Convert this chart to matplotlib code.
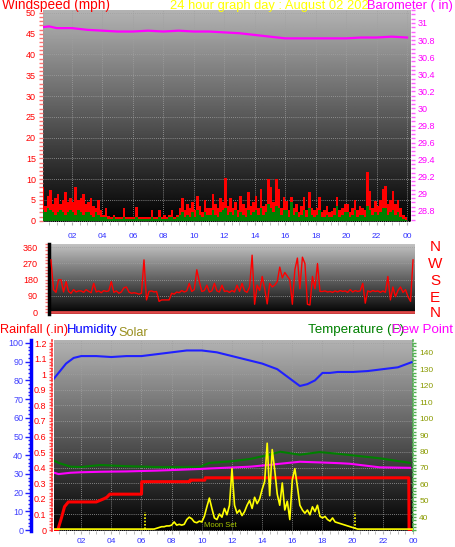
import numpy as np
import matplotlib.pyplot as plt
from matplotlib.ticker import MultipleLocator

plt.rcParams['font.family'] = ['Liberation Sans', 'DejaVu Sans']

# x axis, labels every 2 hours
hour_ticks = [2, 4, 6, 8, 10, 12, 14, 16, 18, 20, 22, 24]
hour_labels = ['02', '04', '06', '08', '10', '12', '14', '16', '18', '20', '22', '00']

# wind speed (mph), 10 minute samples
wind_gust = [
    8.0, 3.5, 6.0, 7.5, 4.0, 5.5,   6.5, 4.0, 5.0, 7.0, 4.5, 5.5,
    4.5, 8.0, 5.0, 5.5, 6.5, 4.0,   4.5, 5.5, 3.5, 3.0, 5.0, 2.5,
    1.5, 3.0, 1.2, 1.0, 1.5, 0.8,   1.0, 0.8, 3.0, 1.0, 0.8, 1.0,
    1.0, 3.3, 1.0, 0.8, 1.0, 1.0,   1.0, 2.5, 0.8, 1.0, 2.5, 1.0,
    1.5, 1.0, 1.5, 2.5, 1.0, 1.5,   3.0, 5.5, 2.5, 4.0, 3.0, 4.5,
    2.5, 6.0, 3.5, 2.0, 5.0, 3.0,   3.0, 6.5, 4.0, 3.0, 5.5, 4.5,
    10.4, 3.5, 5.5, 3.0, 4.5, 2.5,  6.0, 4.0, 3.0, 7.0, 3.5, 4.5,
    6.0, 3.0, 7.6, 3.5, 4.0, 10.0,  8.0, 4.5, 10.0, 7.6, 3.0, 5.6,
    4.8, 2.5, 5.6, 3.0, 4.0, 2.0,   3.5, 5.6, 2.5, 6.8, 3.0, 2.5,
    3.0, 5.6, 2.0, 2.5, 3.5, 2.0,   2.4, 3.0, 5.6, 2.5, 3.0, 4.0,
    4.0, 2.0, 3.0, 5.0, 2.5, 3.5,   3.0, 2.5, 11.8, 7.2, 3.0, 4.8,
    3.5, 5.0, 7.6, 8.4, 4.0, 5.0,   7.2, 4.0, 5.0, 3.0, 1.5, 0.8,
]
wind_avg = [
    2.5, 2.0, 3.0, 2.5, 2.0, 1.5,   2.0, 2.5, 2.0, 1.5, 2.0, 2.5,
    2.0, 1.5, 2.5, 2.0, 1.5, 2.0,   2.0, 1.5, 1.0, 2.0, 1.5, 1.0,
    0.8, 1.0, 0.5, 0.5, 0.8, 0.5,   0.5, 0.5, 1.0, 0.5, 0.5, 0.5,
    0.5, 1.0, 0.5, 0.5, 0.5, 0.5,   0.5, 0.8, 0.5, 0.5, 0.8, 0.5,
    0.5, 0.5, 0.8, 1.0, 0.5, 0.8,   1.5, 2.0, 1.0, 1.5, 1.0, 2.0,
    1.0, 2.5, 1.5, 1.0, 2.0, 1.5,   1.5, 2.5, 1.5, 1.0, 2.0, 2.5,
    3.0, 1.5, 2.0, 1.5, 2.5, 1.0,   2.0, 1.5, 1.0, 2.5, 1.5, 2.0,
    2.5, 1.5, 3.0, 1.5, 2.0, 4.0,   3.0, 2.0, 3.5, 3.0, 1.5, 2.5,
    2.5, 1.0, 4.5, 1.5, 2.0, 1.0,   1.5, 2.5, 1.0, 3.0, 1.5, 1.0,
    1.5, 2.5, 1.0, 1.0, 1.5, 1.0,   1.0, 1.5, 3.5, 1.0, 1.5, 2.0,
    2.0, 1.0, 1.5, 2.5, 1.0, 1.5,   1.5, 1.0, 3.5, 2.5, 1.5, 2.0,
    1.5, 2.0, 3.0, 3.0, 1.5, 2.0,   2.5, 1.5, 2.0, 1.0, 0.5, 0.3,
]

# barometer (in)
baro_hours = [0, 0.5, 1, 2, 3, 4, 5, 6, 7, 8, 9, 10, 11, 12, 13, 14, 15, 16,
              17, 18, 19, 20, 21, 22, 23, 24]
baro_in = [30.95, 30.96, 30.94, 30.94, 30.92, 30.91, 30.90, 30.90, 30.91,
           30.90, 30.91, 30.90, 30.90, 30.89, 30.88, 30.86, 30.84, 30.82,
           30.82, 30.82, 30.82, 30.82, 30.83, 30.83, 30.84, 30.83]

# wind direction (deg), 10 minute samples
wind_dir = [
    290, 125, 110, 180, 180, 112,   170, 115, 105, 125, 112, 118,
    118, 110, 125, 115, 108, 160,   112, 118, 108, 120, 115, 118,
    170, 110, 118, 105, 112, 135,   140, 112, 105, 108, 105, 100,
    105, 290, 68, 115, 118, 112,    115, 60, 68, 68, 68, 68,
    105, 100, 112, 108, 120, 112,   118, 160, 115, 125, 235, 170,
    115, 120, 150, 112, 118, 160,   118, 112, 150, 115, 118, 110,
    120, 112, 150, 115, 160, 118,   110, 140, 316, 44, 150, 120,
    198, 130, 46, 160, 140, 150,    170, 250, 190, 220, 200, 180,
    44, 235, 300, 130, 305, 270,    44, 40, 198, 130, 270, 115,
    115, 118, 112, 115, 110, 118,   112, 120, 115, 118, 110, 125,
    112, 120, 115, 118, 160, 50,    118, 112, 120, 115, 118, 110,
    118, 110, 198, 68, 140, 86,     120, 140, 110, 125, 86, 60,
    290,
]

# rainfall (in)
rain_hours = [0, 0.45, 0.7, 0.9, 1.15, 3.0, 3.25, 3.5, 3.7, 3.9, 6.0, 6.02,
              9.2, 9.22, 10.2, 10.22, 23.72, 23.74, 24]
rain_in = [0, 0, 0.08, 0.15, 0.18, 0.18, 0.19, 0.2, 0.21, 0.23, 0.23, 0.31,
           0.31, 0.32, 0.32, 0.335, 0.335, 0, 0]

# humidity (%)
hum_hours = [0, 0.5, 1, 1.5, 2, 3, 4, 5, 6, 7, 8, 9, 10, 11, 12, 13, 14, 15,
             15.5, 16, 16.5, 17, 17.5, 18, 18.5, 19, 20, 21, 22, 23, 24]
humidity = [79, 84, 89, 92, 93, 93, 92.5, 93, 93, 94, 95, 96, 96, 95, 93, 91,
            89, 86, 83, 80, 77, 78, 80, 84, 84, 84.5, 84.5, 85, 86, 87, 90]

# temperature / dew point (F)
th_hours = [0, 0.5, 1.3, 2, 3.3, 5, 7, 8.5, 9.9, 10.5, 12, 13.2, 14.5, 15.2,
            16.5, 17.8, 19.2, 19.8, 21.8, 23.8]
temp_f = [75.4, 73, 70.7, 70.5, 71.7, 71, 70.5, 70.5, 70.7, 73, 74, 75.4, 78,
          79.8, 78, 79.6, 78.4, 77.8, 75.8, 73]
dew_f = [67.6, 66.2, 67, 67.3, 67.6, 67.8, 68.3, 68.8, 69.3, 69.6, 70.2, 70.7,
         71.8, 72.5, 73.7, 73.3, 72.8, 72.5, 70.3, 70]

# solar (W/m2), 10 minute samples
solar = [0] * 42 + [
    5, 10, 15, 15, 20, 20,          25, 45, 25, 30, 25, 30,
    60, 75, 65, 45, 40, 50,         45, 80, 140, 195, 130, 70,
    60, 95, 75, 130, 90, 150,       380, 150, 100, 120, 85, 110,
    150, 180, 130, 200, 160, 190,   250, 300, 540, 210, 500, 370,
    220, 150, 290, 120, 175, 60,    310, 380, 270, 150, 120, 100,
    120, 90, 140, 110, 150, 80,     70, 80, 60, 50, 70, 45,
    40, 35, 30, 25, 20, 15,         10, 5, 0, 0, 0, 0,
] + [0] * 19
sun_marks = [6.23, 20.16]

W, H = 456, 547
fig = plt.figure(figsize=(W / 100, H / 100), dpi=100)
fig.patch.set_facecolor('white')


def box(l, t, r, b):
    return [l / W, 1 - b / H, (r - l) / W, (b - t) / H]


def shade(ax, top=0.72):
    grad = np.linspace(0.0, top, 256)[:, None]
    ax.imshow(grad, extent=(0, 1, 0, 1), transform=ax.transAxes, origin='lower',
              cmap='gray', vmin=0, vmax=1, aspect='auto', zorder=0)


def hide_spines(ax):
    for s in ax.spines.values():
        s.set_visible(False)


grid_kw = dict(color='#a0a0a0', linestyle=(0, (1, 1.5)), linewidth=0.6)

# ---------------- wind speed / barometer ----------------
ax1 = fig.add_axes(box(43, 10, 411, 222))
shade(ax1, 0.70)
edges = np.arange(len(wind_gust) + 1) / 6
ax1.stairs(wind_gust, edges, fill=True, color='#ff0000', zorder=2)
ax1.stairs(wind_avg, edges, fill=True, color='#008000', zorder=3)
ax1.set_xlim(0.1, 24.26)
ax1.set_ylim(-0.3, 50.7)
ax1.set_yticks(range(0, 51, 5))
ax1.yaxis.set_minor_locator(MultipleLocator(1))
ax1.tick_params(axis='y', which='both', colors='#ff7070', labelcolor='#ff0000',
                labelsize=6.5, length=3, width=1, pad=2)
ax1.set_xticks(hour_ticks, hour_labels)
ax1.xaxis.set_minor_locator(MultipleLocator(0.5))
ax1.tick_params(axis='x', which='both', colors='#b0b0b0', labelcolor='#3030ff',
                labelsize=6, length=2, pad=6)
ax1.grid(True, **grid_kw)
ax1.set_axisbelow(True)
hide_spines(ax1)

ax1b = ax1.twinx()
ax1b.plot(baro_hours, baro_in, color='#ff00ff', lw=1.6)
ax1b.set_ylim(28.671, 31.152)
bt = [28.8, 29.0, 29.2, 29.4, 29.6, 29.8, 30.0, 30.2, 30.4, 30.6, 30.8, 31.0]
ax1b.set_yticks(bt, ['%g' % v for v in bt])
ax1b.yaxis.set_minor_locator(MultipleLocator(0.05))
ax1b.tick_params(axis='y', which='both', colors='#ff60ff', labelcolor='#ff00ff',
                 labelsize=6.5, length=3, width=1, pad=2)
hide_spines(ax1b)

# ---------------- wind direction ----------------
ax2 = fig.add_axes(box(49, 244, 415, 314))
shade(ax2, 0.76)
ax2.plot(np.arange(len(wind_dir)) / 6, wind_dir, color='#ff0000', lw=1.0, zorder=3)
ax2.axhline(0, color='#e04848', lw=2, zorder=2)
ax2.set_xlim(-0.13, 24.13)
ax2.set_ylim(-10, 378)
ax2.set_xticks([])
ax2.set_yticks([0, 90, 180, 270, 360])
ax2.yaxis.set_minor_locator(MultipleLocator(18))
ax2.tick_params(axis='y', which='both', colors='#ff7070', labelcolor='#ff0000',
                labelsize=6.5, length=3, width=1, pad=5)
ax2.grid(True, axis='y', **grid_kw)
ax2.set_axisbelow(True)
hide_spines(ax2)
ax2.spines['left'].set_visible(True)
ax2.spines['left'].set_color('black')
ax2.spines['left'].set_linewidth(2.5)

for letter, yp in zip(['N', 'W', 'S', 'E', 'N'], [247, 264, 281, 298, 313]):
    fig.text(435 / W, 1 - yp / H, letter, color='#ff0000', fontsize=11,
             ha='center', va='center')

# ---------------- rain / humidity / temperature / solar ----------------
ax3 = fig.add_axes(box(54, 340, 413, 531))
shade(ax3, 0.70)
ax3.plot(rain_hours, rain_in, color='#ff0000', lw=2.2, zorder=4)
ax3.set_xlim(0.2, 24.0)
ax3.set_ylim(-0.0064, 1.2193)
rt = [0, 0.1, 0.2, 0.3, 0.4, 0.5, 0.6, 0.7, 0.8, 0.9, 1.0, 1.1, 1.2]
ax3.set_yticks(rt, ['%g' % v for v in rt])
ax3.yaxis.set_minor_locator(MultipleLocator(0.02))
ax3.tick_params(axis='y', which='both', colors='#ff5050', labelcolor='#ff0000',
                labelsize=6.5, length=2.5, width=1, pad=1.5)
ax3.set_xticks(hour_ticks, hour_labels)
ax3.xaxis.set_minor_locator(MultipleLocator(0.5))
ax3.tick_params(axis='x', which='both', colors='#b0b0b0', labelcolor='#3030ff',
                labelsize=6, length=2, pad=3)
ax3.grid(True, **grid_kw)
ax3.set_axisbelow(True)
hide_spines(ax3)
ax3.spines['left'].set_visible(True)
ax3.spines['left'].set_position(('outward', 1.4))
ax3.spines['left'].set_color('#ff3030')
ax3.spines['left'].set_linestyle((0, (1.5, 1.5)))
ax3.spines['left'].set_linewidth(1.2)

axh = ax3.twinx()
axh.plot(hum_hours, humidity, color='#2020ff', lw=1.5)
axh.set_ylim(-0.53, 101.6)
axh.yaxis.tick_left()
axh.set_yticks(range(0, 101, 10))
axh.yaxis.set_minor_locator(MultipleLocator(2))
axh.tick_params(axis='y', which='major', length=4)
axh.tick_params(axis='y', which='minor', length=2)
axh.tick_params(axis='y', which='both', colors='#2020ff', labelcolor='#4040ff',
                labelsize=6.5, width=1, pad=1.5)
hide_spines(axh)
axh.spines['left'].set_visible(True)
axh.spines['left'].set_position(('outward', 16.6))
axh.spines['left'].set_color('#0000ff')
axh.spines['left'].set_linewidth(2.5)

axt = ax3.twinx()
axt.plot(th_hours, temp_f, color='#008000', lw=1.5)
axt.plot(th_hours, dew_f, color='#ff00ff', lw=1.5)
axt.set_ylim(31.5, 147.9)
axt.set_yticks(range(40, 141, 10))
axt.yaxis.set_minor_locator(MultipleLocator(2))
axt.tick_params(axis='y', which='both', colors='#50b050', labelcolor='#8a9a00',
                labelsize=6, length=2.5, width=1, pad=2)
hide_spines(axt)
axt.spines['right'].set_visible(True)
axt.spines['right'].set_color('#50b050')
axt.spines['right'].set_linestyle((0, (1.5, 1.5)))
axt.spines['right'].set_linewidth(1.2)

axs = ax3.twinx()
axs.plot(np.arange(len(solar)) / 6, solar, color='#ffff00', lw=1.2)
axs.vlines(sun_marks, 0, 105, colors='#ffff00', linestyles=(0, (1, 1)), lw=1.2)
axs.text(11.2, 20, 'Moon Set', color='#a8c800', fontsize=5.5, ha='center', va='center')
axs.set_ylim(-12, 1189)
axs.axis('off')

# ---------------- titles ----------------
fig.text(2 / W, 1 - 9 / H, 'Windspeed (mph)', color='#ff0000', fontsize=9.8, va='baseline')
fig.text(170 / W, 1 - 9 / H, '24 hour graph day : August 02 202', color='#ffff00',
         fontsize=9.3, va='baseline')
fig.text(367 / W, 1 - 9 / H, 'Barometer ( in)', color='#ff00ff', fontsize=9.3, va='baseline')

fig.text(0, 1 - 333 / H, 'Rainfall (.in)', color='#ff0000', fontsize=9.2, va='baseline')
fig.text(67 / W, 1 - 333 / H, 'Humidity', color='#0000ff', fontsize=9.4, va='baseline')
fig.text(118 / W, 1 - 336.5 / H, 'Solar', color='#9a9020', fontsize=9.2, va='baseline')
fig.text(308 / W, 1 - 333 / H, 'Temperature (F)', color='#008000', fontsize=9.6, va='baseline')
fig.text(392 / W, 1 - 333 / H, 'Dew Point (', color='#ff00ff', fontsize=9.6, va='baseline')

fig.savefig('out.png', dpi=100)
